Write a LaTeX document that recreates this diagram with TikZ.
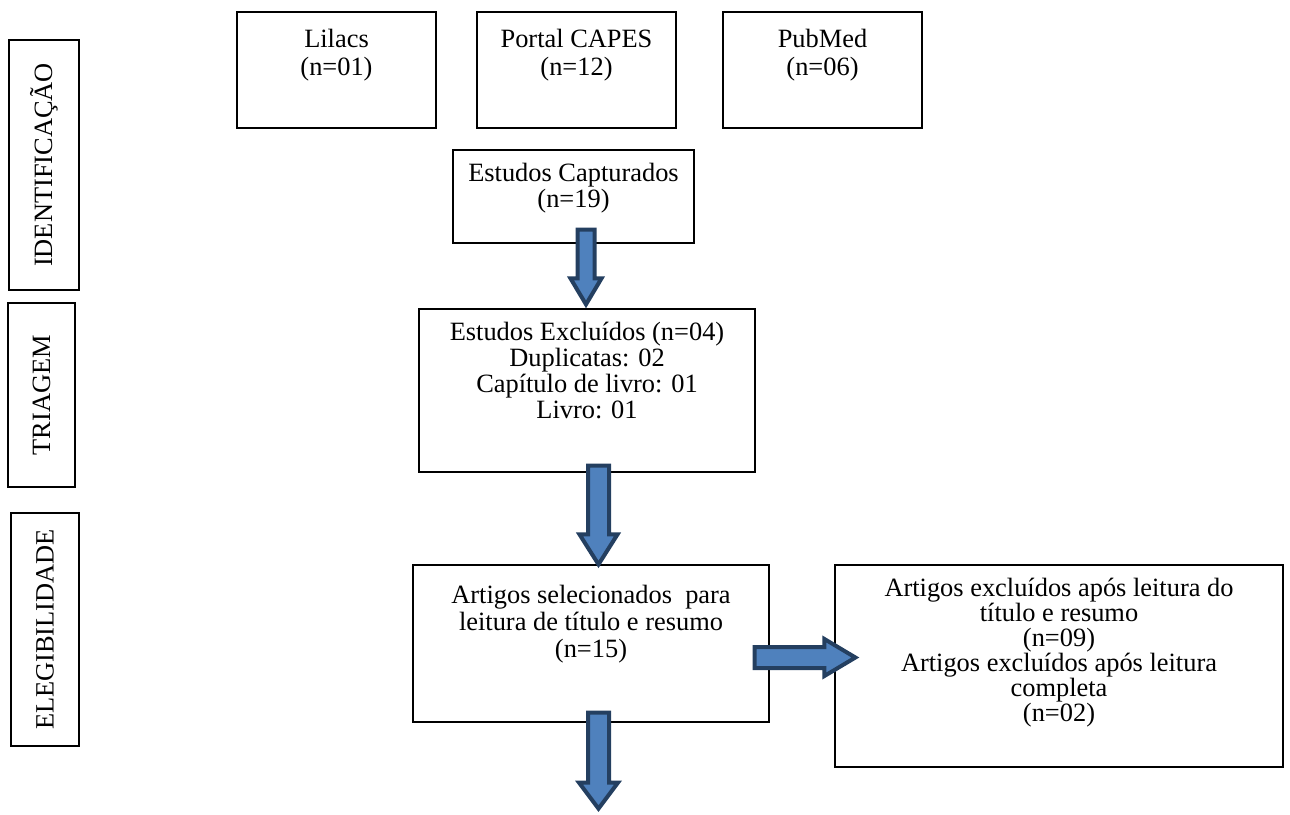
\documentclass[tikz,border=0pt]{standalone}
\usepackage{fontspec}
\setmainfont{Liberation Serif}
\usetikzlibrary{positioning, calc}

\definecolor{arrowfill}{HTML}{4F81BD}
\definecolor{arrowline}{HTML}{243F60}

% block arrows: start, tip, half shaft, half head, head length
\newcommand{\blockdown}[5]{%
  \draw[blockarrow] let \p1=#1, \p2=#2 in
    (\x1-#3,\y1) -- (\x1+#3,\y1) -- (\x1+#3,\y2+#5) -- (\x1+#4,\y2+#5)
    -- (\x1,\y2) -- (\x1-#4,\y2+#5) -- (\x1-#3,\y2+#5) -- cycle;}
\newcommand{\blockright}[5]{%
  \draw[blockarrow] let \p1=#1, \p2=#2 in
    (\x1,\y1+#3) -- (\x2-#5,\y1+#3) -- (\x2-#5,\y1+#4) -- (\x2,\y1)
    -- (\x2-#5,\y1-#4) -- (\x2-#5,\y1-#3) -- (\x1,\y1-#3) -- cycle;}

\begin{document}
\begin{tikzpicture}[x=1pt, y=-1pt, font=\fontsize{26.4}{26}\selectfont,
    box/.style={draw, line width=1.2pt, inner sep=0pt},
    txt/.style={inner sep=0pt, align=center, anchor=north},
    side/.style={rotate=90, inner sep=0pt},
    blockarrow/.style={fill=arrowfill, draw=arrowline, line width=4pt, line join=miter}]
    \useasboundingbox (0,0) rectangle (1290,814);
    % ---------------- stage labels
    \node[box, minimum width=70, minimum height=250] (ident) at (44,165) {};
    \node[side] (ident-t) at (ident.center) {IDENTIFICAÇÃO};
    \node[box, minimum width=67, minimum height=184] (triag) at (41.5,395) {};
    \node[side] (triag-t) at (triag.center) {TRIAGEM};
    \node[box, minimum width=68, minimum height=233] (eleg) at (45,629.5) {};
    \node[side] (eleg-t) at (eleg.center) {ELEGIBILIDADE};
    % ---------------- sources
    \node[box, minimum width=199, minimum height=116] (lilacs) at (336.5,70) {};
    \node[box, minimum width=199, minimum height=116] (capes) at (576.5,70) {};
    \node[box, minimum width=199, minimum height=116] (pubmed) at (822.5,70) {};
    \node[txt] (lilacs-t) at ($(lilacs.north)+(0,18)$) {Lilacs\\[2pt](n=01)};
    \node[txt] (capes-t) at ($(capes.north)+(0,18)$) {Portal CAPES\\[2pt](n=12)};
    \node[txt] (pubmed-t) at ($(pubmed.north)+(0,18)$) {PubMed\\[2pt](n=06)};
    % ---------------- flow boxes
    \node[box, minimum width=241, minimum height=93] (cap) at (573.5,196.5) {};
    \node[txt] (cap-t) at ($(cap.north)+(0,14)$) {Estudos Capturados\\(n=19)};
    \node[box, minimum width=336, minimum height=163] (excl) at (587,390.5) {};
    \node[txt] (excl-t) at ($(excl.north)+(0,14)$) {Estudos Excluídos (n=04)\\Duplicatas: 02\\Capítulo de livro: 01\\Livro: 01};
    \node[box, minimum width=356, minimum height=157] (sel) at (591,643.5) {};
    \node[txt] (sel-t) at ($(sel.north)+(0,21)$) {Artigos selecionados \ para\\[1pt]leitura de título e resumo\\[1pt](n=15)};
    \node[box, minimum width=448, minimum height=202] (excl2) at (1059,666) {};
    \node[txt, font=\fontsize{26.4}{25}\selectfont] (excl2-t) at ($(excl2.north)+(0,14)$) {Artigos excluídos após leitura do\\título e resumo\\(n=09)\\Artigos excluídos após leitura\\completa\\(n=02)};
    % ---------------- block arrows
    \blockdown{($(cap.south)+(12.5,-14)$)}{($(excl.north)+(0,-4)$)}{8.5pt}{15.5pt}{26pt}
    \blockdown{($(excl.south)+(11.5,-7)$)}{(sel.north)}{10.5pt}{19pt}{30pt}
    \blockright{($(sel.east)+(-15,14)$)}{($(excl2.west)+(21,0)$)}{10.5pt}{18.5pt}{31pt}
    \blockdown{($(sel.south)+(7.5,-10)$)}{($(sel.south)+(7.5,86)$)}{10.5pt}{19.5pt}{26pt}
\end{tikzpicture}
\end{document}
